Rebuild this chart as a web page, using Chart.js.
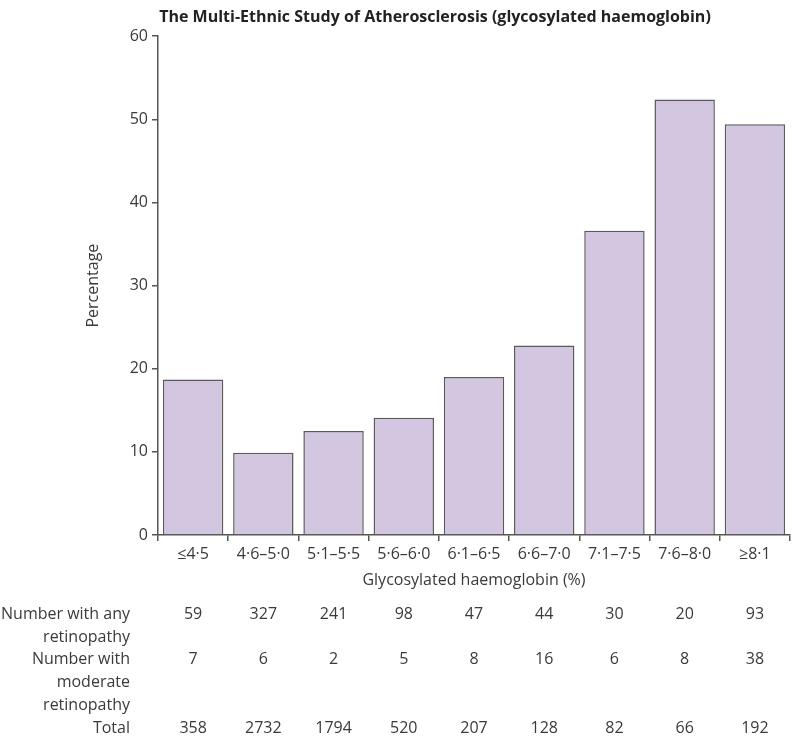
<!DOCTYPE html>
<html>
<head>
<meta charset="utf-8">
<script src="https://cdn.jsdelivr.net/npm/chart.js@4/dist/chart.umd.min.js"></script>
<style>
  html, body { margin: 0; padding: 0; background: #fff; }
  #wrap { width: 800px; height: 743px; }
</style>
</head>
<body>
<div id="wrap"><canvas id="hbaChart" width="800" height="743"></canvas></div>
<script>
// categories and values
const categories = ['≤4·5', '4·6–5·0', '5·1–5·5', '5·6–6·0', '6·1–6·5', '6·6–7·0', '7·1–7·5', '7·6–8·0', '≥8·1'];
const percentage = [18.7, 9.9, 12.5, 14.1, 19.0, 22.8, 36.6, 52.4, 49.4];
const anyRetinopathy = [59, 327, 241, 98, 47, 44, 30, 20, 93];
const moderateRetinopathy = [7, 6, 2, 5, 8, 16, 6, 8, 38];
const totals = [358, 2732, 1794, 520, 207, 128, 82, 66, 192];
const yTicks = [0, 10, 20, 30, 40, 50, 60];

const FONT = '"Liberation Sans Narrow", "Open Sans", sans-serif';
const TEXT = '#3a3a3a';
const AXIS = '#555';

// table rows under the x axis
const tableRows = [
    { label: ['Number with any', 'retinopathy'], values: anyRetinopathy, y: 614 },
    { label: ['Number with', 'moderate', 'retinopathy'], values: moderateRetinopathy, y: 659 },
    { label: ['Total'], values: totals, y: 728 }
];

const tablePlugin = {
    id: 'countTable',
    afterDraw(chart) {
        const ctx = chart.ctx;
        const x = chart.scales.x;
        ctx.save();
        ctx.font = '16px ' + FONT;
        ctx.fillStyle = TEXT;
        ctx.textBaseline = 'middle';
        tableRows.forEach(row => {
            ctx.textAlign = 'right';
            row.label.forEach((line, i) => ctx.fillText(line, 130, row.y + i * 23));
            ctx.textAlign = 'center';
            row.values.forEach((v, i) => ctx.fillText(String(v), x.getPixelForValue(i), row.y));
        });
        ctx.restore();
    }
};

function initChart() {
    const ctx = document.getElementById('hbaChart');
    new Chart(ctx.getContext('2d'), {
        type: 'bar',
        data: {
            labels: categories,
            datasets: [{
                label: 'Percentage',
                data: percentage,
                backgroundColor: '#d3c6e1',
                borderColor: '#5a5a5a',
                borderWidth: 1.5,
                barPercentage: 0.86,
                categoryPercentage: 1
            }]
        },
        options: {
            responsive: false,
            animation: false,
            layout: { padding: { left: 80, right: 10, top: 0, bottom: 153 } },
            plugins: {
                legend: { display: false },
                tooltip: { enabled: false },
                title: {
                    display: true,
                    text: 'The Multi-Ethnic Study of Atherosclerosis (glycosylated haemoglobin)',
                    color: '#222',
                    font: { family: FONT, size: 16, weight: 'bold' },
                    padding: { top: 8, bottom: 9 }
                }
            },
            scales: {
                x: {
                    grid: { drawOnChartArea: false, drawTicks: true, tickLength: 6, color: AXIS, lineWidth: 1.5, offset: true },
                    border: { display: true, color: AXIS, width: 1.5 },
                    ticks: { color: TEXT, font: { family: FONT, size: 16 }, padding: 4, maxRotation: 0, autoSkip: false },
                    title: { display: true, text: 'Glycosylated haemoglobin (%)', color: TEXT, font: { family: FONT, size: 16 }, padding: { top: 4, bottom: 0 } },
                    afterFit(scale) { scale.height = 55; }
                },
                y: {
                    min: 0,
                    max: 60,
                    afterBuildTicks(scale) { scale.ticks = yTicks.map(v => ({ value: v })); },
                    grid: { drawOnChartArea: false, drawTicks: true, tickLength: 6, color: AXIS, lineWidth: 1.5 },
                    border: { display: true, color: AXIS, width: 1.5 },
                    ticks: { color: TEXT, font: { family: FONT, size: 16 }, padding: 4 },
                    title: { display: true, text: 'Percentage', color: TEXT, font: { family: FONT, size: 16 }, padding: { top: 4, bottom: 4 } },
                    afterFit(scale) { scale.width = 78; }
                }
            }
        },
        plugins: [tablePlugin]
    });
}

document.addEventListener('DOMContentLoaded', initChart);
</script>
</body>
</html>
